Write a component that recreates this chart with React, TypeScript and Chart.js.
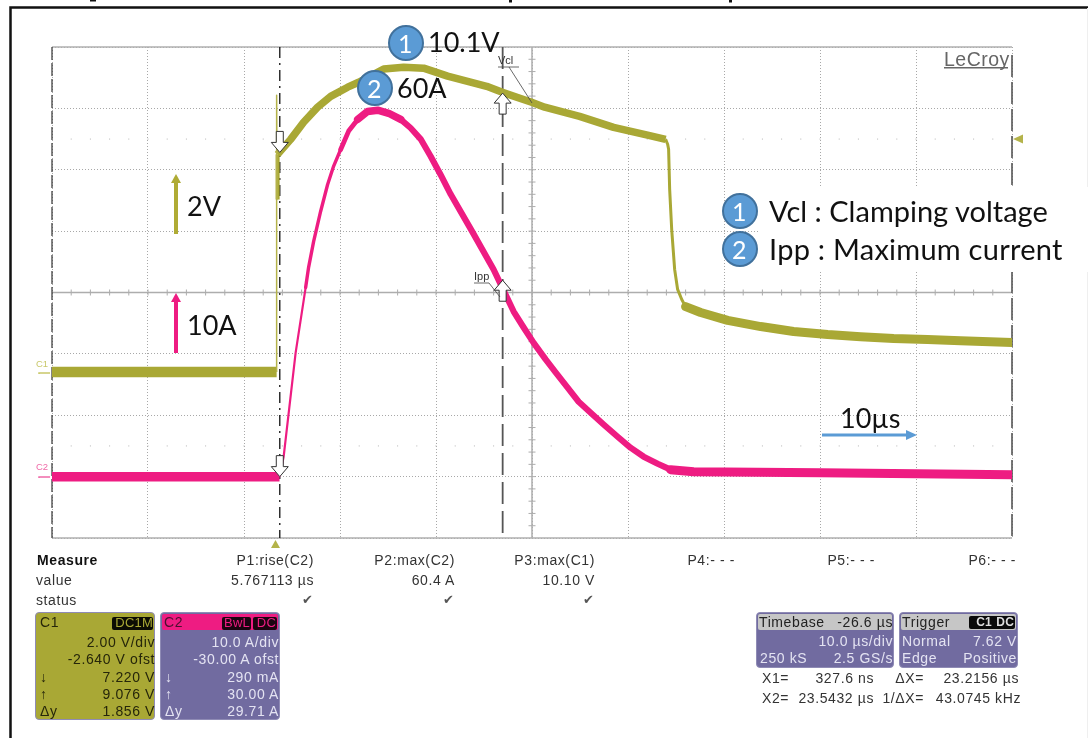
import React, { useEffect, useRef } from "react";
import { Chart, registerables } from "chart.js";

Chart.register(...registerables);

// Time axis, microseconds from trigger; 10 us/div
const xMin = -23.4;
const xMax = 76.6;
const xGrid = [-23.4, -13.4, -3.4, 6.6, 16.6, 26.6, 36.6, 46.6, 56.6, 66.6, 76.6];
// C1: 2 V/div, -2.64 V offset. C2: 10 A/div, -30 A offset.
const voltMin = -5.36;
const voltMax = 10.64;
const ampMin = -10;
const ampMax = 70;
const voltGrid = [-5.36, -3.36, -1.36, 0.64, 2.64, 4.64, 6.64, 8.64, 10.64];

// C1 trace segments
const c1BaseT = [-23.4, 0];
const c1BaseV = [0.05, 0.05];
const c1SpikeT = [0, 0, 0.05];
const c1SpikeV = [0.05, 9.07, 5.67];
const c1StepT = [0.1, 0.1];
const c1StepV = [5.67, 7.14];
const c1HumpT = [0.1, 1.46, 2.81, 4.27, 5.63, 7.4, 8.54, 11.15, 13.23, 15.31, 17.81, 21.88, 23.44, 26.56, 27.92, 31.56, 35.1, 38.75, 40.52];
const c1HumpV = [7.14, 7.63, 8.19, 8.68, 9.03, 9.33, 9.49, 9.92, 9.98, 9.95, 9.69, 9.36, 9.17, 8.84, 8.68, 8.38, 8.02, 7.76, 7.63];
const c1FallT = [40.52, 40.73, 40.83, 40.94, 41.15, 41.46, 41.77, 42.2, 42.6];
const c1FallV = [7.63, 7.47, 7.31, 6.0, 4.7, 3.39, 2.74, 2.41, 2.18];
const c1TailT = [42.6, 44.17, 46.98, 50.42, 53.85, 57.4, 60.83, 64.27, 67.8, 71.25, 76.6];
const c1TailV = [2.18, 1.99, 1.73, 1.53, 1.37, 1.27, 1.2, 1.14, 1.11, 1.07, 1.01];

// C2 trace segments
const c2BaseT = [-23.4, 0.3];
const c2BaseA = [0, 0];
const c2RiseT = [0.31, 0.73, 1.98, 3.02];
const c2RiseA = [0, 3.25, 20.2, 30.8];
const c2ClimbT = [3.02, 3.33, 3.85, 4.58, 5.31, 5.94, 6.67];
const c2ClimbA = [30.8, 34.1, 38.3, 43.2, 47.6, 50.6, 53.3];
const c2ShoulderT = [6.67, 7.5, 8.44];
const c2ShoulderA = [53.3, 56.3, 58.2];
const c2TopT = [8.44, 9.48, 10.52, 11.67, 12.92];
const c2TopA = [58.2, 59.5, 59.7, 59.2, 58.2];
const c2FallT = [12.92, 13.96, 15, 16.04, 17.08, 18.13, 20.42, 22.6, 23.65, 24.69, 25.73, 26.77, 28.02, 29.06, 30.31, 31.46, 32.71, 34.06, 35.52, 36.88, 38.23, 39.69, 41.04];
const c2FallA = [58.2, 56.8, 55, 52.2, 49.2, 46, 39.8, 33.75, 30.3, 26.9, 24.3, 21.8, 19.1, 17, 14.5, 12.2, 10.4, 8.5, 6.5, 4.7, 3.25, 2.1, 1.13];
const c2TailT = [41.04, 43.44, 56.67, 76.6];
const c2TailA = [1.13, 0.8, 0.64, 0.31];

// Cursors
const cursorX1 = 0.3276;
const cursorX2 = 23.5432;
const markerVolts = [7.14, 9.17];
const markerAmps = [0, 32];

const OLIVE = "#A9A835";
const PINK = "#EE1C82";
const BLUE = "#5B9BD5";
const BLUE_EDGE = "#41719C";

const pairs = (xs: number[], ys: number[]) => xs.map((x, i) => ({ x, y: ys[i] }));
const line = (label: string, xs: number[], ys: number[], color: string, width: number, axis: string, cap = "round") => ({
  label,
  data: pairs(xs, ys),
  borderColor: color,
  borderWidth: width,
  pointRadius: 0,
  tension: 0,
  yAxisID: axis,
  borderCapStyle: cap,
  borderJoinStyle: "round",
});

const circles = [
  { x: 406, y: 43, t: "1" },
  { x: 375, y: 88, t: "2" },
  { x: 740, y: 211, t: "1" },
  { x: 740, y: 249, t: "2" },
];

const scopePlugin = {
  id: "scope",
  beforeDatasetsDraw(chart: any) {
    const { ctx, chartArea: a, scales } = chart;
    const xs = scales.x;
    const yv = scales.yV;
    const cx = xs.getPixelForValue(26.6);
    const cy = yv.getPixelForValue(2.64);
    const divX = xs.getPixelForValue(-13.4) - xs.getPixelForValue(-23.4);
    const divY = yv.getPixelForValue(0.64) - yv.getPixelForValue(2.64);
    ctx.save();
    // outer frame
    ctx.strokeStyle = "#111";
    ctx.lineWidth = 2.5;
    ctx.beginPath();
    ctx.moveTo(10.5, 738);
    ctx.lineTo(10.5, 7.5);
    ctx.lineTo(1088, 7.5);
    ctx.stroke();
    // cropped heading descenders
    ctx.fillStyle = "#111";
    ctx.fillRect(90, 0, 6, 1.5);
    ctx.fillRect(509, 0, 3, 2.5);
    ctx.fillRect(729, 0, 3, 2.5);
    // pale right edge
    ctx.fillStyle = "#efefef";
    ctx.fillRect(1087, 8, 1, 730);

    // centre axes with ticks
    ctx.strokeStyle = "#adadad";
    ctx.lineWidth = 1.5;
    ctx.beginPath();
    ctx.moveTo(a.left, cy);
    ctx.lineTo(a.right, cy);
    ctx.moveTo(cx, a.top);
    ctx.lineTo(cx, a.bottom);
    ctx.stroke();
    ctx.lineWidth = 1;
    ctx.beginPath();
    for (let i = 1; i < 50; i++) {
      const px = a.left + (i * divX) / 5;
      ctx.moveTo(px, cy - 3);
      ctx.lineTo(px, cy + 3);
    }
    for (let i = 1; i < 40; i++) {
      const py = a.top + (i * divY) / 5;
      ctx.moveTo(cx - 3.5, py);
      ctx.lineTo(cx + 3.5, py);
    }
    ctx.stroke();
    // sparse dot rows
    ctx.fillStyle = "#b5b5b5";
    for (const row of [cy - 2.5 * divY, cy + 2.5 * divY]) {
      for (let i = 1; i < 50; i++) {
        ctx.fillRect(a.left + (i * divX) / 5 - 0.5, row - 0.5, 1, 1);
      }
    }
    // top and bottom borders
    ctx.strokeStyle = "#b0b0b0";
    ctx.lineWidth = 1.5;
    ctx.beginPath();
    ctx.moveTo(a.left, a.top);
    ctx.lineTo(a.right, a.top);
    ctx.moveTo(a.left, a.bottom);
    ctx.lineTo(a.right, a.bottom);
    ctx.stroke();
    // side borders
    ctx.strokeStyle = "#333";
    ctx.lineWidth = 1.2;
    ctx.setLineDash([13, 3]);
    ctx.beginPath();
    ctx.moveTo(a.left, a.top);
    ctx.lineTo(a.left, a.bottom);
    ctx.stroke();
    ctx.strokeStyle = "#555";
    ctx.lineWidth = 1.6;
    ctx.setLineDash([22, 5]);
    ctx.beginPath();
    ctx.moveTo(a.right, a.top + 8);
    ctx.lineTo(a.right, a.bottom);
    ctx.stroke();
    // cursors
    const px1 = xs.getPixelForValue(cursorX1);
    const px2 = xs.getPixelForValue(cursorX2);
    ctx.strokeStyle = "#111";
    ctx.lineWidth = 1.3;
    ctx.setLineDash([11, 5, 2, 5]);
    ctx.beginPath();
    ctx.moveTo(px1, a.top);
    ctx.lineTo(px1, a.bottom);
    ctx.stroke();
    ctx.strokeStyle = "#555";
    ctx.lineWidth = 1.8;
    ctx.setLineDash([22, 7]);
    ctx.beginPath();
    ctx.moveTo(px2, a.top);
    ctx.lineTo(px2, a.bottom);
    ctx.stroke();
    ctx.restore();
  },
  afterDatasetsDraw(chart: any) {
    const { ctx, scales } = chart;
    const xs = scales.x;
    const yv = scales.yV;
    const ya = scales.yA;
    const px1 = xs.getPixelForValue(cursorX1);
    const px2 = xs.getPixelForValue(cursorX2);
    ctx.save();

    // hollow cursor arrows
    const hollow = (x: number, tip: number, dir: number) => {
      // dir = 1: pointing down to the tip, dir = -1: pointing up
      ctx.beginPath();
      ctx.moveTo(x, tip);
      ctx.lineTo(x - 8.5, tip - dir * 10);
      ctx.lineTo(x - 3.5, tip - dir * 10);
      ctx.lineTo(x - 3.5, tip - dir * 21);
      ctx.lineTo(x + 3.5, tip - dir * 21);
      ctx.lineTo(x + 3.5, tip - dir * 10);
      ctx.lineTo(x + 8.5, tip - dir * 10);
      ctx.closePath();
      ctx.fillStyle = "#fff";
      ctx.fill();
      ctx.strokeStyle = "#333";
      ctx.lineWidth = 1;
      ctx.stroke();
    };
    hollow(px1, yv.getPixelForValue(markerVolts[0]) - 2, 1);
    hollow(px2, yv.getPixelForValue(markerVolts[1]) + 1, -1);
    hollow(px1, ya.getPixelForValue(markerAmps[0]), 1);
    hollow(px2, ya.getPixelForValue(markerAmps[1]), -1);

    // cursor label leaders
    ctx.strokeStyle = "#444";
    ctx.lineWidth = 0.8;
    ctx.beginPath();
    ctx.moveTo(498, 67);
    ctx.lineTo(519, 67);
    ctx.moveTo(509, 67);
    ctx.lineTo(532, 103);
    ctx.moveTo(474, 283);
    ctx.lineTo(489, 283);
    ctx.lineTo(500, 297);
    ctx.stroke();

    // channel level tags
    ctx.lineWidth = 1.5;
    ctx.strokeStyle = "#C9C86A";
    ctx.beginPath();
    ctx.moveTo(39, 374);
    ctx.lineTo(39, 373);
    ctx.lineTo(50, 373);
    ctx.stroke();
    ctx.strokeStyle = "#F06AA8";
    ctx.beginPath();
    ctx.moveTo(39, 478);
    ctx.lineTo(39, 477);
    ctx.lineTo(50, 477);
    ctx.stroke();

    // trigger markers
    ctx.fillStyle = "#B4B34A";
    ctx.beginPath();
    ctx.moveTo(1013, 139);
    ctx.lineTo(1023, 134.5);
    ctx.lineTo(1023, 143.5);
    ctx.closePath();
    ctx.fill();
    ctx.beginPath();
    ctx.moveTo(275.5, 540);
    ctx.lineTo(271, 548);
    ctx.lineTo(280, 548);
    ctx.closePath();
    ctx.fill();

    // white patch behind the legend, and logo
    ctx.fillStyle = "#fff";
    ctx.fillRect(759, 187, 329, 85);
    ctx.fillRect(940, 49, 71, 22);
    ctx.fillStyle = "#666";
    ctx.fillRect(944, 67, 64, 1.5);

    // scale arrows
    const vArrow = (x: number, top: number, bottom: number, color: string) => {
      ctx.fillStyle = color;
      ctx.fillRect(x - 2, top + 9, 4, bottom - top - 9);
      ctx.beginPath();
      ctx.moveTo(x, top);
      ctx.lineTo(x - 5, top + 9);
      ctx.lineTo(x + 5, top + 9);
      ctx.closePath();
      ctx.fill();
    };
    vArrow(176, 174, 234, "#AFAB35");
    vArrow(176, 293, 353, PINK);
    ctx.fillStyle = BLUE;
    ctx.fillRect(822, 433.5, 85, 3);
    ctx.beginPath();
    ctx.moveTo(917, 435);
    ctx.lineTo(906, 430);
    ctx.lineTo(906, 440);
    ctx.closePath();
    ctx.fill();

    // numbered circles
    for (const c of circles) {
      ctx.beginPath();
      ctx.arc(c.x, c.y, 17, 0, Math.PI * 2);
      ctx.fillStyle = BLUE;
      ctx.fill();
      ctx.strokeStyle = BLUE_EDGE;
      ctx.lineWidth = 2;
      ctx.stroke();
    }
    ctx.restore();
  },
};

const T = ({ x, y, r, s, c, b, f, ls, children }: any) => (
  <div
    style={{
      position: "absolute",
      top: y - 15,
      height: 30,
      lineHeight: "30px",
      ...(r !== undefined ? { right: 1088 - r } : { left: x }),
      fontSize: s ?? 14,
      color: c ?? "#333",
      fontWeight: b ? 700 : 400,
      fontFamily: f ?? "'Liberation Sans', Arial, sans-serif",
      letterSpacing: ls ?? 0.6,
      whiteSpace: "pre",
    }}
  >
    {children}
  </div>
);

const Note = (p: any) => <T f="Lato, 'Noto Sans', sans-serif" s={27} ls={0} c="#111" {...p} />;

const Box = ({ x, y, w, h, bg, bc }: any) => (
  <div
    style={{
      position: "absolute",
      left: x,
      top: y,
      width: w,
      height: h,
      background: bg,
      border: bc ? `1.5px solid ${bc}` : "none",
      borderRadius: bc ? 4 : 2,
      boxSizing: "border-box",
    }}
  />
);

export default function App() {
  const ref = useRef<HTMLCanvasElement>(null);
  useEffect(() => {
    const chart = new Chart(ref.current as HTMLCanvasElement, {
      type: "line",
      data: {
        datasets: [
          line("C1 spike", c1SpikeT, c1SpikeV, "#B4B34A", 1.5, "yV", "butt"),
          line("C1 step", c1StepT, c1StepV, OLIVE, 4, "yV", "butt"),
          line("C1 baseline", c1BaseT, c1BaseV, OLIVE, 10.5, "yV", "butt"),
          line("C1 hump", c1HumpT, c1HumpV, OLIVE, 7.5, "yV", "butt"),
          line("C1 fall", c1FallT, c1FallV, OLIVE, 3, "yV", "butt"),
          line("C1 tail", c1TailT, c1TailV, OLIVE, 9, "yV"),
          line("C2 baseline", c2BaseT, c2BaseA, PINK, 9.5, "yA", "butt"),
          line("C2 rise", c2RiseT, c2RiseA, PINK, 2.2, "yA", "butt"),
          line("C2 climb", c2ClimbT, c2ClimbA, PINK, 3.4, "yA"),
          line("C2 shoulder", c2ShoulderT, c2ShoulderA, PINK, 4.8, "yA"),
          line("C2 top", c2TopT, c2TopA, PINK, 7.5, "yA"),
          line("C2 fall", c2FallT, c2FallA, PINK, 6.2, "yA"),
          line("C2 tail", c2TailT, c2TailA, PINK, 9, "yA"),
        ] as any,
      },
      options: {
        responsive: false,
        animation: false,
        parsing: false,
        layout: { padding: { left: 52, right: 76, top: 47, bottom: 200 } },
        plugins: { legend: { display: false }, tooltip: { enabled: false } },
        scales: {
          x: {
            type: "linear",
            min: xMin,
            max: xMax,
            ticks: { display: false },
            border: { display: false, dash: [1, 2] },
            grid: { color: "#a8a8a8", lineWidth: 1, drawTicks: false },
            afterBuildTicks: (s: any) => {
              s.ticks = xGrid.map((value) => ({ value }));
            },
          },
          yV: {
            type: "linear",
            min: voltMin,
            max: voltMax,
            ticks: { display: false },
            border: { display: false, dash: [1, 2] },
            grid: { color: "#a8a8a8", lineWidth: 1, drawTicks: false },
            afterBuildTicks: (s: any) => {
              s.ticks = voltGrid.map((value) => ({ value }));
            },
          },
          yA: {
            type: "linear",
            min: ampMin,
            max: ampMax,
            display: false,
          },
        },
      } as any,
      plugins: [scopePlugin as any],
    });
    return () => chart.destroy();
  }, []);

  const olText = "#26260a";
  const pale = "#e4e3f2";
  const chk = { s: 13, ls: 0, c: "#555", f: "'DejaVu Sans'" };
  return (
    <div style={{ position: "absolute", left: 0, top: 0, width: 1088, height: 738, overflow: "hidden", background: "#fff" }}>
      <canvas ref={ref} width={1088} height={738} style={{ position: "absolute", left: 0, top: 0, display: "block" }} />

      {/* cursor labels and logo */}
      <T x={498} y={60} s={11} ls={0} c="#333">Vcl</T>
      <T x={474} y={276} s={11} ls={0} c="#333">Ipp</T>
      <T x={944} y={59} s={19.5} ls={0.5} c="#666">LeCroy</T>
      <T x={36} y={364} s={9.5} ls={0} c="#C9C86A">C1</T>
      <T x={36} y={467} s={9.5} ls={0} c="#F06AA8">C2</T>

      {/* annotations */}
      {circles.map((c, i) => (
        <T key={i} x={c.x - 8} y={c.y} s={25} ls={0} c="#fff" f="Lato, 'Noto Sans', sans-serif">{c.t}</T>
      ))}
      <Note x={428} y={42}>10.1V</Note>
      <Note x={397} y={88}>60A</Note>
      <Note x={187} y={206}>2V</Note>
      <Note x={187} y={325}>10A</Note>
      <Note x={840} y={418}>10µs</Note>
      <Note x={769} y={211} s={29}>Vcl : Clamping voltage</Note>
      <Note x={769} y={249} s={29} ls={0.25}>Ipp : Maximum current</Note>

      {/* measure table */}
      <T x={37} y={560} b c="#111">Measure</T>
      <T x={36} y={580}>value</T>
      <T x={36} y={600}>status</T>
      <T r={314} y={560}>P1:rise(C2)</T>
      <T r={314} y={580}>5.767113 µs</T>
      <T r={313} y={600} {...chk}>✔</T>
      <T r={455} y={560}>P2:max(C2)</T>
      <T r={455} y={580}>60.4 A</T>
      <T r={454} y={600} {...chk}>✔</T>
      <T r={595} y={560}>P3:max(C1)</T>
      <T r={595} y={580}>10.10 V</T>
      <T r={594} y={600} {...chk}>✔</T>
      <T r={735} y={560}>P4:- - -</T>
      <T r={875} y={560}>P5:- - -</T>
      <T r={1016} y={560}>P6:- - -</T>

      {/* C1 panel */}
      <Box x={35} y={612} w={120} h={108} bg={OLIVE} bc="#8f8bb5" />
      <T x={40} y={622} c={olText}>C1</T>
      <Box x={112} y={617} w={41} h={13} bg="#0c0c04" />
      <T r={153} y={623} s={13} ls={0.2} c={OLIVE}>DC1M</T>
      <T r={155} y={642} c={olText}>2.00 V/div</T>
      <T r={155} y={659} c={olText}>-2.640 V ofst</T>
      <T x={40} y={677} c={olText}>↓</T>
      <T r={155} y={677} c={olText}>7.220 V</T>
      <T x={40} y={694} c={olText}>↑</T>
      <T r={155} y={694} c={olText}>9.076 V</T>
      <T x={40} y={711} c={olText}>Δy</T>
      <T r={155} y={711} c={olText}>1.856 V</T>

      {/* C2 panel */}
      <Box x={160} y={612} w={120} h={108} bg="#716BA0" bc="#8f8bb5" />
      <Box x={162} y={614} w={116} h={16} bg={PINK} />
      <T x={164} y={622} c="#4a1030">C2</T>
      <Box x={222} y={617} w={29} h={13} bg="#1a0410" />
      <T r={250} y={623} s={13} ls={0.2} c={PINK}>BwL</T>
      <Box x={253} y={617} w={24} h={13} bg="#1a0410" />
      <T r={276} y={623} s={13} ls={0.2} c={PINK}>DC</T>
      <T r={279} y={642} c={pale}>10.0 A/div</T>
      <T r={279} y={659} c={pale}>-30.00 A ofst</T>
      <T x={165} y={677} c={pale}>↓</T>
      <T r={279} y={677} c={pale}>290 mA</T>
      <T x={165} y={694} c={pale}>↑</T>
      <T r={279} y={694} c={pale}>30.00 A</T>
      <T x={165} y={711} c={pale}>Δy</T>
      <T r={279} y={711} c={pale}>29.71 A</T>

      {/* Timebase panel */}
      <Box x={756} y={612} w={138} h={56} bg="#716BA0" bc="#8f8bb5" />
      <Box x={758} y={614} w={134} h={16} bg="#C6C6C6" />
      <T x={759} y={622} c="#222">Timebase</T>
      <T r={893} y={622} c="#222">-26.6 µs</T>
      <T r={893} y={641} c={pale}>10.0 µs/div</T>
      <T x={760} y={658} c={pale}>250 kS</T>
      <T r={893} y={658} c={pale}>2.5 GS/s</T>

      {/* Trigger panel */}
      <Box x={899} y={612} w={119} h={56} bg="#716BA0" bc="#8f8bb5" />
      <Box x={901} y={614} w={115} h={16} bg="#C6C6C6" />
      <T x={902} y={622} c="#222">Trigger</T>
      <Box x={969} y={616} w={46} h={13} bg="#0a0a0a" />
      <T r={992} y={622} s={12} ls={0.2} c="#ddd" b>C1</T>
      <T r={1014} y={622} s={12} ls={0.2} c="#ddd" b>DC</T>
      <T x={902} y={641} c={pale}>Normal</T>
      <T r={1017} y={641} c={pale}>7.62 V</T>
      <T x={902} y={658} c={pale}>Edge</T>
      <T r={1017} y={658} c={pale}>Positive</T>

      {/* cursor read-outs */}
      <T x={762} y={678}>X1=</T>
      <T r={874} y={678}>327.6 ns</T>
      <T x={762} y={698}>X2=</T>
      <T r={874} y={698}>23.5432 µs</T>
      <T r={924} y={678}>ΔX=</T>
      <T r={1019} y={678}>23.2156 µs</T>
      <T r={924} y={698}>1/ΔX=</T>
      <T r={1021} y={698}>43.0745 kHz</T>
    </div>
  );
}
